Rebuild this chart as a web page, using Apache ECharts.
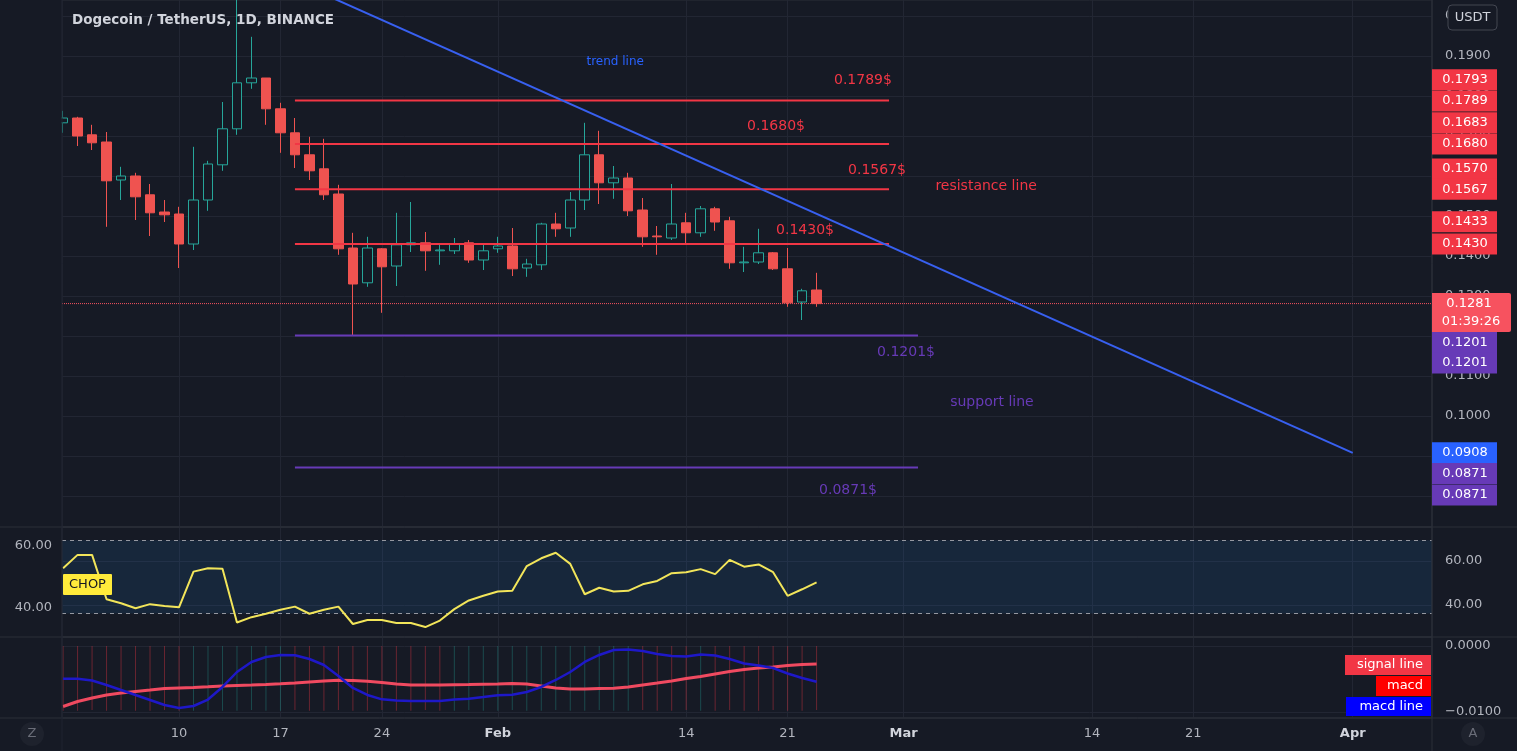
<!DOCTYPE html>
<html><head><meta charset="utf-8">
<script src="https://cdn.jsdelivr.net/npm/echarts@6/dist/echarts.min.js"></script>
<style>html,body{margin:0;padding:0;background:#161a25;overflow:hidden}#c{width:1517px;height:751px}</style>
</head><body><div id="c"></div>
<script>
// ---------------- DATA ----------------
const dates = ['2022-01-02','2022-01-03','2022-01-04','2022-01-05','2022-01-06','2022-01-07','2022-01-08','2022-01-09','2022-01-10','2022-01-11','2022-01-12','2022-01-13','2022-01-14','2022-01-15','2022-01-16','2022-01-17','2022-01-18','2022-01-19','2022-01-20','2022-01-21','2022-01-22','2022-01-23','2022-01-24','2022-01-25','2022-01-26','2022-01-27','2022-01-28','2022-01-29','2022-01-30','2022-01-31','2022-02-01','2022-02-02','2022-02-03','2022-02-04','2022-02-05','2022-02-06','2022-02-07','2022-02-08','2022-02-09','2022-02-10','2022-02-11','2022-02-12','2022-02-13','2022-02-14','2022-02-15','2022-02-16','2022-02-17','2022-02-18','2022-02-19','2022-02-20','2022-02-21','2022-02-22','2022-02-23'];
const opens  = [0.1733,0.1745,0.1703,0.1685,0.1590,0.1600,0.1553,0.1510,0.1505,0.1430,0.1540,0.1628,0.1718,0.1833,0.1845,0.1768,0.1708,0.1653,0.1618,0.1555,0.1420,0.1333,0.1418,0.1375,0.1428,0.1433,0.1413,0.1413,0.1433,0.1390,0.1418,0.1425,0.1370,0.1378,0.1480,0.1470,0.1540,0.1653,0.1583,0.1595,0.1515,0.1450,0.1445,0.1483,0.1458,0.1518,0.1488,0.1383,0.1385,0.1408,0.1368,0.1285,0.1315];
const highs  = [0.1763,0.1748,0.1728,0.1710,0.1623,0.1608,0.1580,0.1540,0.1523,0.1673,0.1638,0.1785,0.2090,0.1948,0.1845,0.1783,0.1745,0.1698,0.1693,0.1578,0.1458,0.1448,0.1420,0.1508,0.1535,0.1460,0.1428,0.1445,0.1440,0.1428,0.1448,0.1470,0.1393,0.1483,0.1508,0.1560,0.1733,0.1713,0.1625,0.1608,0.1545,0.1475,0.1580,0.1508,0.1525,0.1523,0.1498,0.1423,0.1468,0.1410,0.1420,0.1318,0.1358];
const lows   = [0.1708,0.1675,0.1665,0.1473,0.1540,0.1490,0.1450,0.1485,0.1370,0.1415,0.1513,0.1613,0.1703,0.1818,0.1728,0.1658,0.1620,0.1590,0.1540,0.1403,0.1201,0.1323,0.1258,0.1325,0.1410,0.1363,0.1378,0.1405,0.1383,0.1365,0.1408,0.1350,0.1348,0.1365,0.1448,0.1448,0.1515,0.1530,0.1543,0.1500,0.1423,0.1403,0.1440,0.1430,0.1448,0.1463,0.1368,0.1360,0.1380,0.1365,0.1273,0.1240,0.1273];
const closes = [0.1745,0.1700,0.1683,0.1588,0.1600,0.1548,0.1508,0.1503,0.1430,0.1540,0.1630,0.1718,0.1833,0.1845,0.1768,0.1708,0.1653,0.1613,0.1553,0.1418,0.1330,0.1420,0.1373,0.1428,0.1433,0.1413,0.1415,0.1430,0.1390,0.1413,0.1425,0.1368,0.1380,0.1480,0.1468,0.1540,0.1653,0.1583,0.1595,0.1513,0.1448,0.1448,0.1480,0.1458,0.1518,0.1485,0.1383,0.1385,0.1408,0.1368,0.1283,0.1313,0.1281];
const chopValues = [52.8,57.1,57.1,42.8,41.5,39.9,41.2,40.6,40.2,51.7,52.8,52.6,35.3,37.0,38.1,39.4,40.4,38.1,39.4,40.4,34.8,36.1,36.1,35.1,35.1,33.8,35.9,39.6,42.4,43.9,45.3,45.5,53.5,56.0,57.8,54.2,44.4,46.5,45.3,45.5,47.6,48.7,51.2,51.5,52.5,50.9,55.5,53.3,54.0,51.5,43.9,46.0,48.2];
const macdLineValues = [-0.00495,-0.00495,-0.00523,-0.00591,-0.00667,-0.00742,-0.00818,-0.00894,-0.00939,-0.00909,-0.00811,-0.00621,-0.00394,-0.00242,-0.00167,-0.00136,-0.00141,-0.00197,-0.00288,-0.00455,-0.00636,-0.00742,-0.00808,-0.00826,-0.00833,-0.00833,-0.00833,-0.00811,-0.00798,-0.00773,-0.00745,-0.00739,-0.00697,-0.00621,-0.00515,-0.00394,-0.00242,-0.00136,-0.00061,-0.00053,-0.00076,-0.00121,-0.00152,-0.00159,-0.00129,-0.00144,-0.00197,-0.00265,-0.00295,-0.00333,-0.00417,-0.00485,-0.00541];
const signalLineValues = [-0.00917,-0.00841,-0.00788,-0.00742,-0.00712,-0.00689,-0.00667,-0.00644,-0.00636,-0.00629,-0.00618,-0.00606,-0.00598,-0.00591,-0.00583,-0.00573,-0.00561,-0.00545,-0.00530,-0.00520,-0.00523,-0.00535,-0.00553,-0.00576,-0.00591,-0.00591,-0.00591,-0.00586,-0.00583,-0.00579,-0.00576,-0.00568,-0.00576,-0.00606,-0.00636,-0.00652,-0.00652,-0.00644,-0.00641,-0.00621,-0.00591,-0.00561,-0.00530,-0.00492,-0.00462,-0.00424,-0.00386,-0.00356,-0.00333,-0.00318,-0.00295,-0.00280,-0.00273];
const histValues = [-0.0098,-0.0098,-0.0097,-0.0098,-0.0097,-0.0098,-0.0098,-0.0097,-0.0098,-0.0098,-0.0097,-0.0098,-0.0098,-0.0097,-0.0098,-0.0098,-0.0097,-0.0098,-0.0098,-0.0097,-0.0098,-0.0098,-0.0097,-0.0098,-0.0098,-0.0097,-0.0098,-0.0098,-0.0097,-0.0098,-0.0098,-0.0097,-0.0098,-0.0098,-0.0097,-0.0098,-0.0098,-0.0097,-0.0098,-0.0098,-0.0097,-0.0098,-0.0098,-0.0097,-0.0098,-0.0098,-0.0097,-0.0098,-0.0098,-0.0097,-0.0098,-0.0098,-0.0097];
const tickDays = [10,17,24,32,45,52,60,73,80,91];
const tickLabels = ['10','17','24','Feb','14','21','Mar','14','21','Apr'];
const priceTicks = [0.08,0.09,0.10,0.11,0.12,0.13,0.14,0.15,0.16,0.17,0.18,0.19,0.20];
const chopTicks = [40,60];
const chopBand = [38.2,61.8];
const macdTicks = [0,-0.01];
const resistanceLevels = [0.1789,0.1680,0.1567,0.1430];
const supportLevels = [0.1201,0.0871];
const levelStart = '2022-01-18';
const resistanceEnd = '2022-02-28';
const supportEnd = '2022-03-02';
const trendPoints = [['2022-01-18',0.2087],['2022-04-01',0.0908]];
const tagValues = [0.1793,0.1789,0.1683,0.1680,0.1570,0.1567,0.1433,0.1430,0.1201,0.1201,0.0908,0.0871,0.0871];
const countdown = '01:39:26';
const title = 'Dogecoin / TetherUS, 1D, BINANCE';
// annotation texts: [text, day-of-year, price]
const annotations = [['trend line',40.1,0.1885],['0.1789$',57.2,0.1838],['0.1680$',51.2,0.1725],['0.1567$',58.17,0.1615],['resistance line',65.7,0.1573],['0.1430$',53.2,0.1463],['0.1201$',60.17,0.1158],['support line',66.1,0.1033],['0.0871$',56.17,0.0813]];
const legendLabels = ['signal line','macd','macd line'];

// ---------------- HELPERS / STYLE ----------------
function dayNum(s){const p=s.split('-').map(Number);return (Date.UTC(p[0],p[1]-1,p[2])-Date.UTC(2022,0,0))/86400000;}
const FONT='"DejaVu Sans"';
const BG='#161a25', GRIDC='#222633', SEP='#2a2e39', LBL='#b2b5be';
const RED='#f23645', PURPLE='#673ab7', BLUE='#2962ff', UP='#26a69a', DOWN='#ef5350';
const xMin=1.925, xMax=96.47;
const annColors=[BLUE,RED,RED,RED,RED,RED,PURPLE,PURPLE,PURPLE];
const annSizes=[12,14,14,14,14,14,14,14,14];
const tagColors=[RED,RED,RED,RED,RED,RED,RED,RED,PURPLE,PURPLE,BLUE,PURPLE,PURPLE];
const tagShift=[-19,0.5,-20,0,-19,0,-21,0,7,27.5,0,6,27.5];

const xs = dates.map(dayNum);
const candleData = xs.map((x,i)=>[x,opens[i],closes[i],lows[i],highs[i]]);
const lastClose = closes[closes.length-1];

function xAxisFor(gi, show){
  return {type:'value',gridIndex:gi,min:xMin,max:xMax,
    axisLine:{show:false},axisTick:{show:false,customValues:tickDays},
    splitLine:{show:true,lineStyle:{color:GRIDC,width:1}},
    axisLabel: show ? {show:true,customValues:tickDays,color:LBL,fontSize:13,fontFamily:FONT,margin:9,
      formatter:v=>{const i=tickDays.indexOf(Math.round(v));const t=tickLabels[i]||'';return isNaN(Number(t))?'{b|'+t+'}':t;},
      rich:{b:{fontWeight:'bold',color:'#d1d4dc',fontSize:13,fontFamily:FONT}}} : {show:false}};
}
function levelSeries(v, endDate, color){
  return {type:'line',xAxisIndex:0,yAxisIndex:0,data:[[dayNum(levelStart),v],[dayNum(endDate),v]],
    symbol:'none',lineStyle:{color:color,width:2},z:5,silent:true};
}

const option = {
  backgroundColor: BG, animation:false,
  textStyle:{fontFamily:FONT},
  title:{text:title,left:72,top:13,padding:0,textStyle:{color:'#d1d4dc',fontSize:13.5,fontWeight:'bold',fontFamily:FONT}},
  grid:[
    {left:62,right:85,top:0,height:527,show:true,borderColor:SEP,borderWidth:1},
    {left:62,right:85,top:527,height:110,show:true,borderColor:SEP,borderWidth:1},
    {left:62,right:85,top:637,height:81,show:true,borderColor:SEP,borderWidth:1}
  ],
  xAxis:[xAxisFor(0,false),xAxisFor(1,false),xAxisFor(2,true)],
  yAxis:[
    {type:'value',gridIndex:0,position:'right',min:0.07225,max:0.204,axisLine:{show:false},
     axisTick:{show:false,customValues:priceTicks},
     axisLabel:{customValues:priceTicks,formatter:v=>v.toFixed(4),color:LBL,fontSize:13,margin:13,fontFamily:FONT},
     splitLine:{show:true,lineStyle:{color:GRIDC}}},
    {type:'value',gridIndex:1,position:'left',min:30.6,max:66.1,axisLine:{show:false},
     axisTick:{show:false,customValues:chopTicks},
     axisLabel:{customValues:chopTicks,formatter:v=>v.toFixed(2),color:LBL,fontSize:13,margin:10,fontFamily:FONT},
     splitLine:{show:false}},
    {type:'value',gridIndex:1,position:'right',min:25.45,max:75.45,axisLine:{show:false},
     axisTick:{show:false,customValues:chopTicks},
     axisLabel:{customValues:chopTicks,formatter:v=>v.toFixed(2),color:LBL,fontSize:13,margin:13,fontFamily:FONT},
     splitLine:{show:true,lineStyle:{color:GRIDC}}},
    {type:'value',gridIndex:2,position:'right',min:-0.01091,max:0.001364,axisLine:{show:false},
     axisTick:{show:false,customValues:macdTicks},
     axisLabel:{customValues:macdTicks,formatter:v=>(v<-1e-9?'\u2212':'')+Math.abs(v).toFixed(4),color:LBL,fontSize:13,margin:13,fontFamily:FONT},
     splitLine:{show:true,lineStyle:{color:GRIDC}}}
  ],
  series:[
    {type:'candlestick',xAxisIndex:0,yAxisIndex:0,data:candleData,encode:{x:0,y:[1,2,3,4]},barWidth:10,z:3,clip:true,
     itemStyle:{color:BG,color0:DOWN,borderColor:UP,borderColor0:DOWN,borderWidth:1}},
    {type:'line',xAxisIndex:0,yAxisIndex:0,data:[[xMin,lastClose],[xMax,lastClose]],symbol:'none',silent:true,z:2,
     lineStyle:{color:'#f7525f',type:[1,1],width:1}},
    ...resistanceLevels.map(v=>levelSeries(v,resistanceEnd,RED)),
    ...supportLevels.map(v=>levelSeries(v,supportEnd,PURPLE)),
    {type:'line',xAxisIndex:0,yAxisIndex:0,data:trendPoints.map(p=>[dayNum(p[0]),p[1]]),symbol:'none',
     lineStyle:{color:'#3860f0',width:2},z:6,silent:true,clip:true},
    {type:'line',xAxisIndex:1,yAxisIndex:1,data:xs.map((x,i)=>[x,chopValues[i]]),symbol:'none',
     lineStyle:{color:'#f2e55a',width:2},z:5,clip:true,
     markArea:{silent:true,itemStyle:{color:'rgba(33,150,243,0.11)'},data:[[{yAxis:chopBand[0]},{yAxis:chopBand[1]}]]},
     markLine:{silent:true,symbol:'none',label:{show:false},lineStyle:{color:'#9598a1',type:[4,4],width:1},
       data:[{yAxis:chopBand[0]},{yAxis:chopBand[1]}]}},
    {type:'bar',xAxisIndex:2,yAxisIndex:3,barWidth:1,z:2,
     data:xs.map((x,i)=>({value:[x,histValues[i]],itemStyle:{color:(i>0&&macdLineValues[i]>macdLineValues[i-1])?'rgba(38,166,154,0.35)':'rgba(242,54,69,0.38)'}}))},
    {type:'line',xAxisIndex:2,yAxisIndex:3,data:xs.map((x,i)=>[x,signalLineValues[i]]),symbol:'none',
     lineStyle:{color:'#f04a60',width:3},z:4},
    {type:'line',xAxisIndex:2,yAxisIndex:3,data:xs.map((x,i)=>[x,macdLineValues[i]]),symbol:'none',
     lineStyle:{color:'#1e18c8',width:2.5},z:5}
  ]
};

const chart = echarts.init(document.getElementById('c'),null,{renderer:'canvas'});
chart.setOption(option);

// ---------------- OVERLAY (positions derived through the chart's scales) ----------------
function txt(x,y,text,color,size,align,weight){
  return {type:'text',x:x,y:y,z:101,silent:true,style:{text:text,fill:color,font:(weight||'normal')+' '+size+'px '+FONT,
    align:align||'center',verticalAlign:'middle',textAlign:align||'center',textVerticalAlign:'middle'}};
}
const g=[];
const W=1517;
// mask left of plot (clips the partially visible first candle)
g.push({type:'rect',z:40,silent:true,shape:{x:0,y:0,width:61.5,height:526},style:{fill:BG}});
// pane separators
[527,637,718].forEach(y=>g.push({type:'line',z:50,silent:true,shape:{x1:0,y1:y,x2:W,y2:y},style:{stroke:SEP,lineWidth:1}}));
g.push({type:'line',z:50,silent:true,shape:{x1:1432,y1:0,x2:1432,y2:751},style:{stroke:SEP,lineWidth:1}});
g.push({type:'line',z:50,silent:true,shape:{x1:62,y1:0,x2:62,y2:751},style:{stroke:'#1f2330',lineWidth:1}});
// annotations
annotations.forEach((a,i)=>{const p=chart.convertToPixel({gridIndex:0},[a[1],a[2]]);g.push(txt(p[0],p[1],a[0],annColors[i],annSizes[i]));});
// price tags
tagValues.forEach((v,i)=>{const y=chart.convertToPixel({yAxisIndex:0},v)+tagShift[i];
  g.push({type:'rect',z:100,silent:true,shape:{x:1432,y:y-10.5,width:65,height:21},style:{fill:tagColors[i]}});
  g.push(txt(1465,y,v.toFixed(4),'#ffffff',13));});
// current price tag
(function(){const y=chart.convertToPixel({yAxisIndex:0},lastClose);
  g.push({type:'rect',z:100,silent:true,shape:{x:1432,y:y-10.5,width:79,height:39,r:[0,2,2,0]},style:{fill:'#f7525f'}});
  g.push(txt(1469,y,lastClose.toFixed(4),'#ffffff',13));
  g.push(txt(1471,y+18,countdown,'#ffffff',13));})();
// USDT badge
g.push({type:'rect',z:100,silent:true,shape:{x:1448,y:5,width:49,height:25,r:4},style:{fill:BG,stroke:'#434651',lineWidth:1}});
g.push(txt(1472.5,18,'USDT','#d1d4dc',13));
// CHOP label
g.push({type:'rect',z:100,silent:true,shape:{x:63,y:574,width:49,height:21,r:1},style:{fill:'#ffeb3b'}});
g.push(txt(87.5,585,'CHOP','#131722',13));
// MACD legend labels
const legColors=['#f23645','#ff0000','#0000ff'];
const legBoxes=[[1345,655,86,20],[1376,676,55,20],[1346,697,85,19]];
legendLabels.forEach((t,i)=>{const b=legBoxes[i];
  g.push({type:'rect',z:100,silent:true,shape:{x:b[0],y:b[1],width:b[2],height:b[3]},style:{fill:legColors[i]}});
  g.push(txt(b[0]+b[2]-8,b[1]+b[3]/2,t,'#ffffff',13,'right'));});
// bottom buttons
[[32,'Z'],[1473,'A']].forEach(b=>{g.push({type:'circle',z:100,silent:true,shape:{cx:b[0],cy:734,r:12},style:{fill:'#1e222d'}});
  g.push(txt(b[0],734,b[1],'#6a6d78',13));});
chart.setOption({graphic:g});
</script></body></html>
